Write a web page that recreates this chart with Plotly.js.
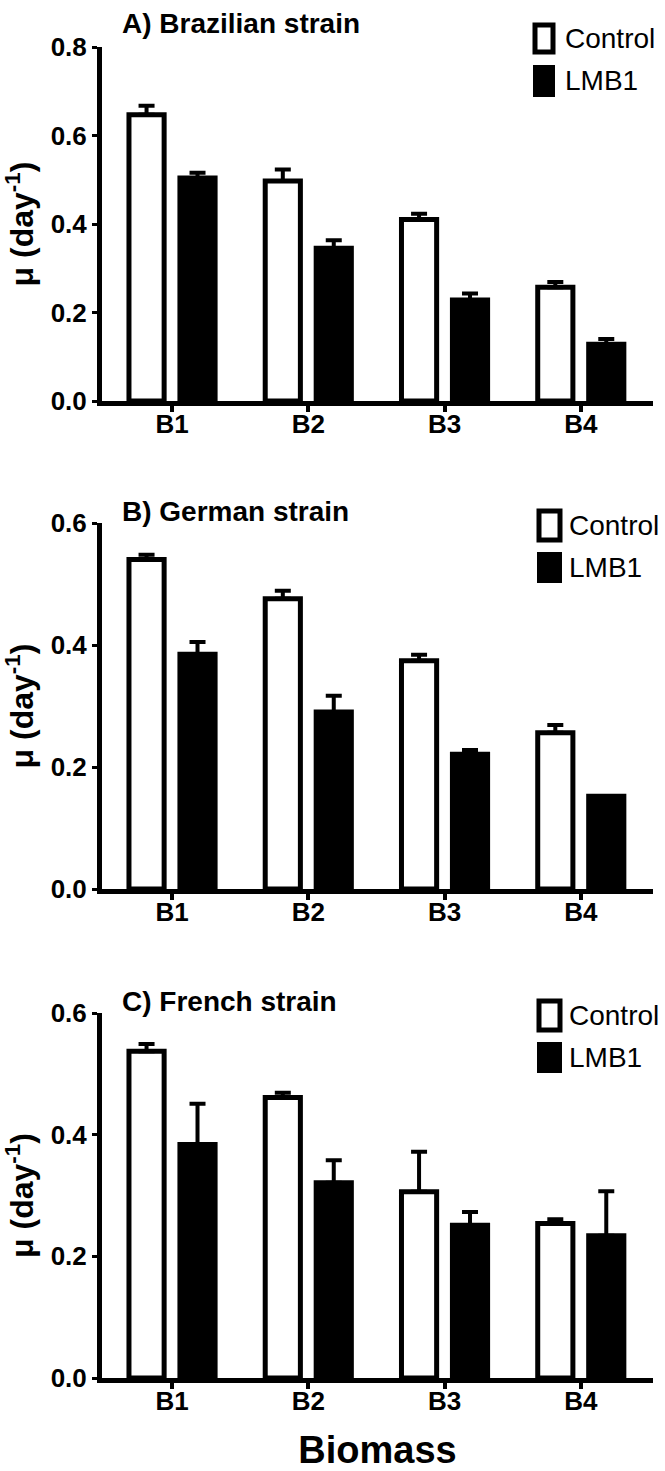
<!DOCTYPE html>
<html>
<head>
<meta charset="utf-8">
<script src="https://cdn.plot.ly/plotly-3.0.1.min.js"></script>
<style>html,body{margin:0;padding:0;background:#fff;}#chart{width:665px;height:1471px;}</style>
</head>
<body>
<div id="chart"></div>
<script>
// ---- data ----
var categories = ['B1', 'B2', 'B3', 'B4'];
var seriesNames = ['Control', 'LMB1'];
var panelTitles = ['A) Brazilian strain', 'B) German strain', 'C) French strain'];

var brazilControl    = [0.647, 0.497, 0.410, 0.257];
var brazilControlErr = [0.020, 0.026, 0.013, 0.012];
var brazilLMB1       = [0.504, 0.345, 0.228, 0.128];
var brazilLMB1Err    = [0.012, 0.018, 0.015, 0.012];

var germanControl    = [0.540, 0.476, 0.374, 0.256];
var germanControlErr = [0.008, 0.013, 0.010, 0.013];
var germanLMB1       = [0.385, 0.290, 0.221, 0.152];
var germanLMB1Err    = [0.020, 0.027, 0.007, 0.000];

var frenchControl    = [0.537, 0.461, 0.306, 0.254];
var frenchControlErr = [0.012, 0.008, 0.066, 0.007];
var frenchLMB1       = [0.384, 0.321, 0.251, 0.234];
var frenchLMB1Err    = [0.067, 0.037, 0.022, 0.073];

var yMax = [0.8, 0.6, 0.6];
var yTickVals = [[0, 0.2, 0.4, 0.6, 0.8], [0, 0.2, 0.4, 0.6], [0, 0.2, 0.4, 0.6]];

// ---- build ----
var W = 665, H = 1471;
function px(x) { return x / W; }
function py(y) { return 1 - y / H; }
var FONT = 'Liberation Sans, Arial, Helvetica, sans-serif';

var panels = [
  {c: brazilControl, ce: brazilControlErr, l: brazilLMB1, le: brazilLMB1Err},
  {c: germanControl, ce: germanControlErr, l: germanLMB1, le: germanLMB1Err},
  {c: frenchControl, ce: frenchControlErr, l: frenchLMB1, le: frenchLMB1Err}
];
var plotTop = [47, 523, 1013];
var plotBot = [401, 889, 1378];
var xLeft = 102, xRight = 653;

function zeros(n) { var a = []; for (var i = 0; i < n; i++) a.push(0); return a; }

var traces = [];
panels.forEach(function (p, i) {
  var xa = i === 0 ? 'x' : 'x' + (i + 1);
  var ya = i === 0 ? 'y' : 'y' + (i + 1);
  traces.push({
    type: 'bar', name: seriesNames[0], x: categories, y: p.c,
    xaxis: xa, yaxis: ya, showlegend: false,
    marker: {color: '#ffffff', line: {color: '#000', width: 5}},
    error_y: {type: 'data', array: p.ce, arrayminus: zeros(p.ce.length), symmetric: false,
              color: '#000', thickness: 4, width: 8}
  });
  traces.push({
    type: 'bar', name: seriesNames[1], x: categories, y: p.l,
    xaxis: xa, yaxis: ya, showlegend: false,
    marker: {color: '#000000', line: {color: '#000', width: 5}},
    error_y: {type: 'data', array: p.le, arrayminus: zeros(p.le.length), symmetric: false,
              color: '#000', thickness: 4, width: 8}
  });
});

var layout = {
  width: W, height: H,
  margin: {l: 0, r: 0, t: 0, b: 0},
  paper_bgcolor: '#fff', plot_bgcolor: '#fff',
  barmode: 'group', bargap: 0.252, bargroupgap: 0.31,
  showlegend: false,
  font: {family: FONT, color: '#000'},
  annotations: [], shapes: []
};

for (var i = 0; i < 3; i++) {
  var sfx = i === 0 ? '' : String(i + 1);
  var xaxis = {
    domain: [px(xLeft), px(xRight)],
    anchor: 'y' + sfx,
    range: [-0.514, 3.53],
    showline: true, linecolor: '#000', linewidth: 5,
    ticks: 'outside', ticklen: 6, tickwidth: 4, tickcolor: '#000',
    ticklabelstandoff: -10,
    showgrid: false, zeroline: false, fixedrange: true,
    tickfont: {family: FONT, size: 26, weight: 'bold', color: '#000'}
  };
  if (i === 2) {
    xaxis.title = {text: 'Biomass', font: {family: FONT, size: 38, weight: 'bold', color: '#000'}, standoff: 26};
  }
  var yaxis = {
    domain: [py(plotBot[i]), py(plotTop[i])],
    anchor: 'x' + sfx,
    range: [0, yMax[i]],
    tickvals: yTickVals[i], tickformat: '.1f',
    showline: true, linecolor: '#000', linewidth: 5,
    ticks: 'outside', ticklen: 5, tickwidth: 3, tickcolor: '#000',
    showgrid: false, zeroline: false, fixedrange: true,
    tickfont: {family: FONT, size: 26, weight: 'bold', color: '#000'},
    title: {text: 'μ (day<sup>-1</sup>)', font: {family: FONT, size: 32, weight: 'bold', color: '#000'}, standoff: 10}
  };
  layout['xaxis' + sfx] = xaxis;
  layout['yaxis' + sfx] = yaxis;
}

// panel titles
var titleY = [23, 512, 1001];
panelTitles.forEach(function (t, i) {
  layout.annotations.push({
    xref: 'paper', yref: 'paper', x: px(120), y: py(titleY[i]),
    xanchor: 'left', yanchor: 'middle', showarrow: false, text: t,
    font: {family: FONT, size: 28, weight: 'bold', color: '#000'}
  });
});

// legends (one per panel)
var legendBoxes = [
  {x0: 533, x1: 555, c: [23, 54], l: [65, 97], tx: 563},
  {x0: 537, x1: 562, c: [509, 542], l: [552, 583], tx: 567},
  {x0: 537, x1: 562, c: [999, 1032], l: [1042, 1073], tx: 567}
];
legendBoxes.forEach(function (b) {
  layout.shapes.push({type: 'rect', xref: 'paper', yref: 'paper',
    x0: px(b.x0 + 2), x1: px(b.x1 - 2), y0: py(b.c[1] - 2), y1: py(b.c[0] + 2),
    fillcolor: '#fff', line: {color: '#000', width: 5}});
  layout.shapes.push({type: 'rect', xref: 'paper', yref: 'paper',
    x0: px(b.x0), x1: px(b.x1), y0: py(b.l[1]), y1: py(b.l[0]),
    fillcolor: '#000', line: {color: '#000', width: 0}});
  layout.annotations.push({xref: 'paper', yref: 'paper', x: px(b.tx), y: py((b.c[0] + b.c[1]) / 2),
    xanchor: 'left', yanchor: 'middle', showarrow: false, text: seriesNames[0],
    font: {family: FONT, size: 28, color: '#000'}});
  layout.annotations.push({xref: 'paper', yref: 'paper', x: px(b.tx), y: py((b.l[0] + b.l[1]) / 2),
    xanchor: 'left', yanchor: 'middle', showarrow: false, text: seriesNames[1],
    font: {family: FONT, size: 28, color: '#000'}});
});

Plotly.newPlot('chart', traces, layout, {staticPlot: true, displayModeBar: false});
</script>
</body>
</html>
